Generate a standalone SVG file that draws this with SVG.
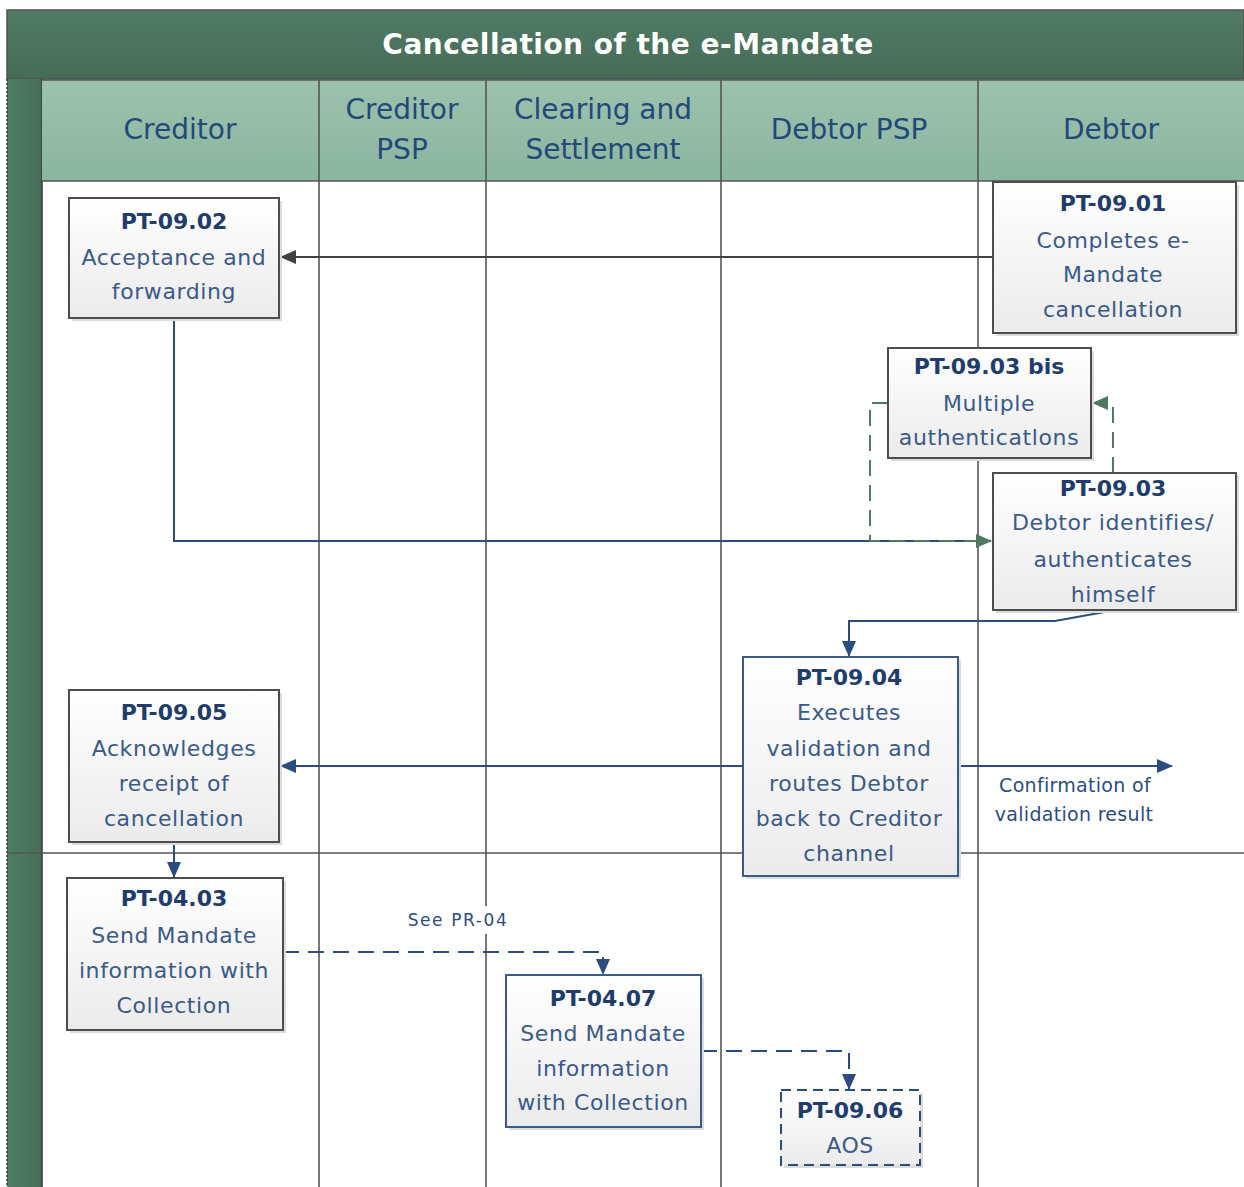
<svg xmlns="http://www.w3.org/2000/svg" width="1244" height="1187" viewBox="0 0 1244 1187">
<defs>
<linearGradient id="gTitle" x1="0" y1="0" x2="0" y2="1"><stop offset="0" stop-color="#517b65"/><stop offset="1" stop-color="#456c57"/></linearGradient>
<linearGradient id="gHead" x1="0" y1="0" x2="0" y2="1"><stop offset="0" stop-color="#9cc2ae"/><stop offset="1" stop-color="#8bb59e"/></linearGradient>
<linearGradient id="gStrip" x1="0" y1="0" x2="1" y2="0"><stop offset="0" stop-color="#4f7d65"/><stop offset="1" stop-color="#466d58"/></linearGradient>
<linearGradient id="gNode" x1="0" y1="0" x2="0" y2="1"><stop offset="0" stop-color="#ffffff"/><stop offset="1" stop-color="#ebebeb"/></linearGradient>
<marker id="aGray" markerWidth="18" markerHeight="18" refX="15" refY="8" orient="auto" markerUnits="userSpaceOnUse"><path d="M0,1 L16,8 L0,15 Z" fill="#404040"/></marker>
<marker id="aBlue" markerWidth="18" markerHeight="18" refX="15" refY="8" orient="auto" markerUnits="userSpaceOnUse"><path d="M0,1 L16,8 L0,15 Z" fill="#2b4c7e"/></marker>
<marker id="aGreen" markerWidth="18" markerHeight="18" refX="15" refY="8" orient="auto" markerUnits="userSpaceOnUse"><path d="M0,1 L16,8 L0,15 Z" fill="#4f7a62"/></marker>
</defs>
<style>
.lane{stroke:#555;stroke-width:1.6;fill:none}
.hd{font-family:"DejaVu Sans",sans-serif;font-size:28px;fill:#24487a;text-anchor:middle;dominant-baseline:central}
.ttl{font-family:"DejaVu Sans",sans-serif;font-weight:bold;font-size:28px;fill:#ffffff;text-anchor:middle;dominant-baseline:central;letter-spacing:0.5px}
.box{fill:url(#gNode);stroke:#4d4d4d;stroke-width:2}
.boxb{fill:url(#gNode);stroke:#3a5a8a;stroke-width:2}
.boxd{fill:url(#gNode);stroke:#2b4c7e;stroke-width:2;stroke-dasharray:10 6}
.sh{fill:#dcdcdc}
.nt{font-family:"DejaVu Sans",sans-serif;font-weight:bold;font-size:22px;fill:#1f3d6b;text-anchor:middle;dominant-baseline:central}
.nb{font-family:"DejaVu Sans",sans-serif;font-size:22px;fill:#3a5a88;text-anchor:middle;dominant-baseline:central;letter-spacing:0.6px}
.lbl{font-family:"DejaVu Sans",sans-serif;font-size:19px;fill:#2b4c7e;text-anchor:middle;dominant-baseline:central;letter-spacing:0.3px}
.cg{stroke:#404040;stroke-width:2;fill:none}
.cb{stroke:#2b4c7e;stroke-width:2;fill:none}
.cbd{stroke:#2b4c7e;stroke-width:2;fill:none;stroke-dasharray:16 9}
.cgd{stroke:#4f7a62;stroke-width:2;fill:none;stroke-dasharray:16 9}
</style>

<g id="pool">
<rect x="7" y="10" width="1237" height="1177" fill="#ffffff"/>
<rect x="7" y="10" width="1237" height="69" fill="url(#gTitle)" stroke="#505050" stroke-width="1.5"/>
<text class="ttl" x="628" y="44">Cancellation of the e-Mandate</text>
<rect x="7" y="79" width="35" height="1108" fill="url(#gStrip)"/>
<line x1="7" y1="79" x2="7" y2="1187" stroke="#3a3a3a" stroke-width="1.5" stroke-dasharray="2 2"/>
<line x1="42" y1="79" x2="42" y2="1187" stroke="#3d3d3d" stroke-width="1.6"/>
<rect x="42" y="80" width="1202" height="101" fill="url(#gHead)"/>
<line class="lane" x1="42" y1="80" x2="1244" y2="80"/>
<line class="lane" x1="42" y1="181" x2="1244" y2="181"/>
<line class="lane" x1="319" y1="80" x2="319" y2="1187"/>
<line class="lane" x1="486" y1="80" x2="486" y2="1187"/>
<line class="lane" x1="721" y1="80" x2="721" y2="1187"/>
<line class="lane" x1="978" y1="80" x2="978" y2="1187"/>
<line class="lane" x1="7" y1="853" x2="1244" y2="853"/>
<text class="hd" x="180" y="129">Creditor</text>
<text class="hd" x="402" y="109">Creditor</text>
<text class="hd" x="402" y="149">PSP</text>
<text class="hd" x="603" y="109">Clearing and</text>
<text class="hd" x="603" y="149">Settlement</text>
<text class="hd" x="849" y="129">Debtor PSP</text>
<text class="hd" x="1111" y="129">Debtor</text>
</g>

<g id="connectors">
<path class="cg" d="M993,257 H281" marker-end="url(#aGray)"/>
<path class="cb" d="M174,318 V541 H991" marker-end="url(#aGreen)"/>
<path class="cgd" d="M888,403 H870 V541 H978"/>
<path class="cgd" d="M1113,473 V403 H1093" marker-end="url(#aGreen)"/>
<path class="cb" d="M1110,611 L1055,621 H849 V656" marker-end="url(#aBlue)"/>
<path class="cb" d="M743,766 H281" marker-end="url(#aBlue)"/>
<path class="cb" d="M958,766 H1172" marker-end="url(#aBlue)"/>
<path class="cb" d="M174,842 V877" marker-end="url(#aBlue)"/>
<path class="cbd" d="M283,952 H603 V974" marker-end="url(#aBlue)"/>
<path class="cbd" d="M701,1051 H849 V1089" marker-end="url(#aBlue)"/>
<rect x="400" y="906" width="116" height="28" fill="#ffffff"/>
<text class="lbl" x="458" y="920" style="font-size:17px;letter-spacing:1.6px">See PR-04</text>
<text class="lbl" x="1075" y="785">Confirmation of</text>
<text class="lbl" x="1074" y="814">validation result</text>
</g>

<g id="PT-09.02">
<rect class="sh" x="72" y="201" width="210" height="120"/>
<rect class="box" x="69" y="198" width="210" height="120"/>
<text class="nt" x="174" y="221">PT-09.02</text>
<text class="nb" x="174" y="257">Acceptance and</text>
<text class="nb" x="174" y="291">forwarding</text>
</g>

<g id="PT-09.01">
<rect class="sh" x="996" y="185" width="243" height="151"/>
<rect class="box" x="993" y="182" width="243" height="151"/>
<text class="nt" x="1113" y="203">PT-09.01</text>
<text class="nb" x="1113" y="240">Completes e-</text>
<text class="nb" x="1113" y="274">Mandate</text>
<text class="nb" x="1113" y="309">cancellation</text>
</g>

<g id="PT-09.03bis">
<rect class="sh" x="891" y="351" width="203" height="110"/>
<rect class="box" x="888" y="348" width="203" height="110"/>
<text class="nt" x="989" y="366">PT-09.03 bis</text>
<text class="nb" x="989" y="403">Multiple</text>
<text class="nb" x="989" y="437">authenticatlons</text>
</g>

<g id="PT-09.03">
<rect class="sh" x="996" y="476" width="243" height="137"/>
<rect class="box" x="993" y="473" width="243" height="137"/>
<text class="nt" x="1113" y="488">PT-09.03</text>
<text class="nb" x="1113" y="522">Debtor identifies/</text>
<text class="nb" x="1113" y="559">authenticates</text>
<text class="nb" x="1113" y="594">himself</text>
</g>

<g id="PT-09.04">
<rect class="sh" x="746" y="660" width="215" height="219"/>
<rect class="boxb" x="743" y="657" width="215" height="219"/>
<text class="nt" x="849" y="677">PT-09.04</text>
<text class="nb" x="849" y="712">Executes</text>
<text class="nb" x="849" y="748">validation and</text>
<text class="nb" x="849" y="783">routes Debtor</text>
<text class="nb" x="849" y="818">back to Creditor</text>
<text class="nb" x="849" y="853">channel</text>
</g>

<g id="PT-09.05">
<rect class="sh" x="72" y="693" width="210" height="152"/>
<rect class="box" x="69" y="690" width="210" height="152"/>
<text class="nt" x="174" y="712">PT-09.05</text>
<text class="nb" x="174" y="748">Acknowledges</text>
<text class="nb" x="174" y="783">receipt of</text>
<text class="nb" x="174" y="818">cancellation</text>
</g>

<g id="PT-04.03">
<rect class="sh" x="70" y="881" width="216" height="152"/>
<rect class="box" x="67" y="878" width="216" height="152"/>
<text class="nt" x="174" y="898">PT-04.03</text>
<text class="nb" x="174" y="935">Send Mandate</text>
<text class="nb" x="174" y="970">information with</text>
<text class="nb" x="174" y="1005">Collection</text>
</g>

<g id="PT-04.07">
<rect class="sh" x="509" y="978" width="195" height="152"/>
<rect class="boxb" x="506" y="975" width="195" height="152"/>
<text class="nt" x="603" y="998">PT-04.07</text>
<text class="nb" x="603" y="1033">Send Mandate</text>
<text class="nb" x="603" y="1068">information</text>
<text class="nb" x="603" y="1102">with Collection</text>
</g>

<g id="PT-09.06">
<rect class="sh" x="784" y="1093" width="139" height="75"/>
<rect class="boxd" x="781" y="1090" width="139" height="75"/>
<text class="nt" x="850" y="1110">PT-09.06</text>
<text class="nb" x="850" y="1145">AOS</text>
</g>
</svg>
